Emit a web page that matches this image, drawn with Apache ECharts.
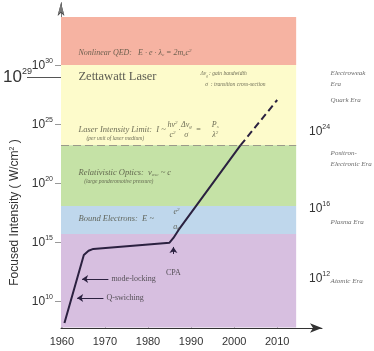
<!DOCTYPE html>
<html><head><meta charset="utf-8">
<script src="https://cdn.jsdelivr.net/npm/echarts@6/dist/echarts.min.js"></script>
<style>html,body{margin:0;padding:0;background:#fff}#c{width:374px;height:351px}</style>
</head><body><div id="c"></div>
<script>
// ---- data (x = year, y = log10 of focused intensity in W/cm^2) ----
const lineYears = [1960.6, 1965.1, 1966.2, 1967.3, 1985.0, 1985.9, 1987.1, 2001.5];
const lineLog   = [8.14, 13.9, 14.26, 14.41, 14.94, 15.34, 16.02, 23.2];
const dashYears = [2001.5, 2010.0];
const dashLog   = [23.2, 27.03];
const bandLow   = [30, 23.2, 18.05, 15.68, 7.75];
const bandHigh  = [34.07, 30, 23.2, 18.05, 15.68];
const bandStartYear = 1959.8;
const bandEndYear = 2014.4;
const leftTicks  = [10, 15, 20, 25, 30];
const zettaLevel = 29;
// right-hand scale: exponents shown, and the intensity level (log10) each one sits at
const rightTickLabels = [12, 16, 24];
const rightTickLevel  = [11.95, 17.88, 24.41];
const xTicks = [1960, 1970, 1980, 1990, 2000, 2010];
const eraNames = ['Electroweak\nEra', 'Quark Era', 'Positron-\nElectronic Era', 'Plasma Era', 'Atomic Era'];
const eraLevel = [28.81, 27.03, 22.1, 16.7, 11.69];

// ---- styles ----
const bandColors = ['#f6b3a2', '#fdfbcb', '#c5e2a6', '#bfd7ec', '#d7bfe0'];
const serif = "'Liberation Serif','Times New Roman',serif";
const sans = "'Liberation Sans',Arial,sans-serif";
const ink = '#2b2140';
const noteColor = '#4a4a3a';

const powRich = (size, sup, color) => ({
  b: {fontSize: size, fontFamily: sans, color: color, verticalAlign: 'bottom', lineHeight: size + 2},
  s: {fontSize: sup, fontFamily: sans, color: color, verticalAlign: 'top', lineHeight: sup}
});
const noteRich = (size) => ({
  t: {fontSize: size, fontFamily: serif, fontStyle: 'italic', color: noteColor},
  sub: {fontSize: Math.round(size * 0.6), fontFamily: serif, fontStyle: 'italic', color: noteColor, verticalAlign: 'bottom', padding: [4, 0, 0, 0]},
  sup: {fontSize: Math.round(size * 0.6), fontFamily: serif, fontStyle: 'italic', color: noteColor, verticalAlign: 'top', padding: [0, 0, 4, 0]}
});

// annotations anchored in data coordinates [year, log10 I]
const notes = [
  {at: [1963.85, 31.02], text: '{t|Nonlinear QED:   E · e · λ}{sub|c}{t| = 2m}{sub|e}{t|c}{sup|2}', size: 8},
  {at: [1963.85, 28.98], text: '{z|Zettawatt Laser}', size: 12.5},
  {at: [1992.2, 29.24], text: '{t|Δν}{sub|g}{t| : gain bandwidth}', size: 5.5},
  {at: [1993.3, 28.3], text: '{t|σ  : transition cross-section}', size: 5.5},
  {at: [1963.85, 24.49], text: '{t|Laser Intensity Limit:  I ~}', size: 8.5},
  {at: [1965.7, 23.73], text: '{t|(per unit of laser medium)}', size: 5.5},
  {at: [1963.85, 20.85], text: '{t|Relativistic Optics:  v}{sub|osc}{t| ~ c}', size: 8.5},
  {at: [1965.2, 20.08], text: '{t|(large ponderomotive pressure)}', size: 5.5},
  {at: [1963.85, 16.95], text: '{t|Bound Electrons:  E ~}', size: 8.5},
  {at: [1971.5, 11.86], text: '{m|mode-locking}', size: 8},
  {at: [1970.35, 10.25], text: '{m|Q-swiching}', size: 8}
];
const centered = [
  {at: [1985.7, 24.92], text: '{t|hν}{sup|2}', size: 8},
  {at: [1985.7, 24.07], text: '{t|c}{sup|2}', size: 8},
  {at: [1987.3, 24.49], text: '{t|·}', size: 8},
  {at: [1988.9, 24.92], text: '{t|Δν}{sub|g}', size: 8},
  {at: [1988.9, 24.07], text: '{t|σ}', size: 8},
  {at: [1991.7, 24.49], text: '{t|=}', size: 8},
  {at: [1995.6, 24.92], text: '{t|P}{sub|s}', size: 8},
  {at: [1995.6, 24.07], text: '{t|λ}{sup|2}', size: 8},
  {at: [1986.6, 17.54], text: '{t|e}{sup|2}', size: 8},
  {at: [1986.6, 16.27], text: '{t|a}{sub|0}', size: 8},
  {at: [1985.9, 12.37], text: '{m|CPA}', size: 8}
];
const arrows = [
  [[1970.8, 11.86], [1964.7, 11.86]],
  [[1969.65, 10.25], [1963.55, 10.25]],
  [[1985.9, 13.98], [1985.9, 14.58]]
];

const mkNote = (n, pos) => {
  const r = noteRich(n.size);
  r.z = {fontSize: n.size, fontFamily: serif, color: '#333'};
  r.m = {fontSize: n.size, fontFamily: serif, color: '#333'};
  return {value: n.at, label: {show: true, position: pos, distance: 0, formatter: n.text, rich: r}};
};

const chart = echarts.init(document.getElementById('c'), null, {renderer: 'canvas'});
chart.setOption({
  animation: false,
  grid: [
    {left: 61, right: 52, top: 3, bottom: 23},
    {left: 61, right: 70, top: 3, bottom: 23}
  ],
  xAxis: [
    {type: 'value', gridIndex: 0, min: 1959.8, max: 2020.4, z: 0,
      axisLine: {show: true, symbol: ['none', 'arrow'], symbolSize: [7, 12], lineStyle: {color: '#333', width: 1}},
      axisTick: {show: true, inside: true, length: 6, customValues: xTicks, lineStyle: {color: '#999'}},
      axisLabel: {customValues: xTicks, margin: 8, fontSize: 11, fontFamily: sans, color: '#333', formatter: v => String(v)},
      splitLine: {show: false}},
    {type: 'value', gridIndex: 1, min: 0, max: 1, show: false}
  ],
  yAxis: [
    {type: 'value', gridIndex: 0, min: 7.71, max: 35.25, z: 0,
      name: 'Focused Intensity ( W/cm{s|2} )', nameLocation: 'middle', nameGap: 36, nameRotate: 90,
      nameTextStyle: {fontSize: 12, fontFamily: sans, color: '#333', padding: [0, 94, 0, 0],
        rich: {s: {fontSize: 7, fontFamily: sans, color: '#333', verticalAlign: 'top'}}},
      axisLine: {show: true, symbol: ['none', 'arrow'], symbolSize: [5, 13], lineStyle: {color: '#333', width: 1}},
      axisTick: {show: true, length: 6, customValues: leftTicks, lineStyle: {color: '#999'}},
      axisLabel: {customValues: leftTicks, margin: 8, formatter: v => '{b|10}{s|' + v + '}', rich: powRich(12, 7, '#333')},
      splitLine: {show: false}},
    {type: 'value', gridIndex: 0, min: 7.71, max: 35.25, position: 'left',
      axisLine: {show: false},
      axisTick: {show: true, length: 34, customValues: [zettaLevel], lineStyle: {color: '#555'}},
      axisLabel: {customValues: [zettaLevel], margin: 29, formatter: v => '{b|10}{s|' + v + '}', rich: powRich(17, 9, '#333')},
      splitLine: {show: false}},
    {type: 'value', gridIndex: 1, min: 7.71, max: 35.25, position: 'right',
      axisLine: {show: true, symbol: ['none', 'arrow'], symbolSize: [5, 12], lineStyle: {color: '#777', width: 1}},
      axisTick: {show: true, length: 5, customValues: rightTickLevel, lineStyle: {color: '#999'}},
      axisLabel: {customValues: rightTickLevel, margin: 5,
        formatter: v => '{b|10}{s|' + rightTickLabels[rightTickLevel.indexOf(v)] + '}', rich: powRich(12, 7, '#333')},
      splitLine: {show: false}}
  ],
  series: [
    {type: 'line', xAxisIndex: 0, yAxisIndex: 0, data: [], z: 3, silent: true,
      markArea: {silent: true, data: bandLow.map((lo, i) => [
        {xAxis: bandStartYear, yAxis: lo, itemStyle: {color: bandColors[i]}},
        {xAxis: bandEndYear, yAxis: bandHigh[i]}
      ])},
      markLine: {silent: true, symbol: 'none', label: {show: false},
        lineStyle: {color: '#9a9a8a', type: [8, 4], width: 1},
        data: [[{coord: [bandStartYear, bandLow[1]]}, {coord: [bandEndYear, bandLow[1]]}]]}
    },
    {type: 'line', xAxisIndex: 0, yAxisIndex: 0, z: 5, showSymbol: false, silent: true,
      data: lineYears.map((y, i) => [y, lineLog[i]]),
      lineStyle: {color: ink, width: 2},
      markLine: {silent: true, symbol: ['none', 'arrow'], symbolSize: 6, label: {show: false},
        lineStyle: {color: ink, width: 1, type: 'solid'},
        data: arrows.map(a => [{coord: a[0]}, {coord: a[1]}])}
    },
    {type: 'line', xAxisIndex: 0, yAxisIndex: 0, z: 5, showSymbol: false, silent: true,
      data: dashYears.map((y, i) => [y, dashLog[i]]),
      lineStyle: {color: ink, width: 2, type: [7, 4]}},
    {type: 'scatter', xAxisIndex: 0, yAxisIndex: 0, z: 6, symbolSize: 0, clip: false, silent: true,
      data: notes.map(n => mkNote(n, 'right'))},
    {type: 'scatter', xAxisIndex: 0, yAxisIndex: 0, z: 6, symbolSize: 0, clip: false, silent: true,
      data: centered.map(n => mkNote(n, 'inside'))},
    {type: 'scatter', xAxisIndex: 0, yAxisIndex: 0, z: 6, symbolSize: 0, clip: false, silent: true,
      data: eraNames.map((e, i) => ({value: [2022.4, eraLevel[i]],
        label: {show: true, position: 'right', distance: 0, formatter: e, fontSize: 7, lineHeight: 11,
          fontFamily: serif, fontStyle: 'italic', color: '#444'}}))}
  ]
});
</script></body></html>
